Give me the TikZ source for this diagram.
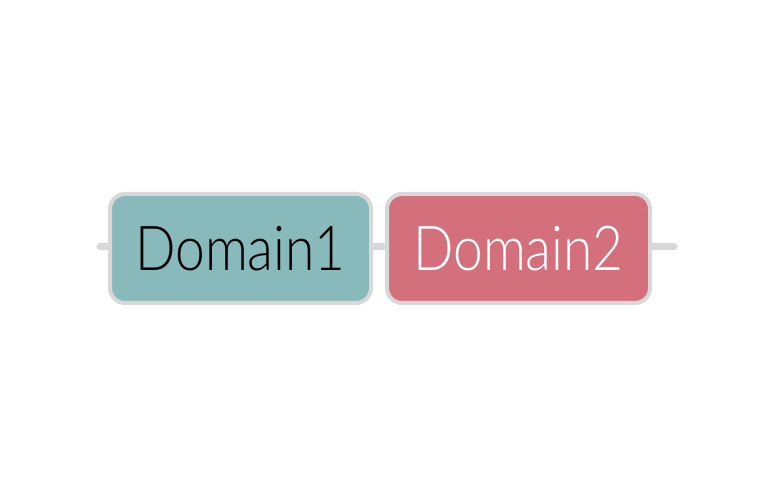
\documentclass[tikz,border=0pt]{standalone}
\usepackage{fontspec}
\setmainfont{Lato}[UprightFont=* Light]
\usetikzlibrary{backgrounds}
\definecolor{boxborder}{HTML}{D8D8D8}
\definecolor{tealfill}{HTML}{88BABC}
\definecolor{redfill}{HTML}{D3707C}
\newcommand{\dlabel}[1]{\scalebox{0.86}[1]{#1}}
\tikzset{
  domainbox/.style={draw=boxborder, line width=4pt, rounded corners=15pt,
    minimum width=261pt, minimum height=109pt, inner sep=0pt,
    font=\fontsize{62}{62}\selectfont},
  linkline/.style={draw=boxborder, line width=7pt, line cap=round}
}
\begin{document}
\begin{tikzpicture}[x=1pt,y=1pt]
\useasboundingbox (0,0) rectangle (774,503);
\node[domainbox, fill=tealfill, text=black] (d1) at (240.5,254.5) {\dlabel{Domain1}\hspace{10pt}};
\node[domainbox, fill=redfill, text=white, minimum width=263pt] (d2) at (518.5,254.5) {\dlabel{Domain2}\hspace{6pt}};
\coordinate (L) at (100,256);
\coordinate (R) at (674,256);
\begin{scope}[on background layer]
\draw[linkline] (L) -- (L -| d1.west);
\draw[linkline] (L -| d1.east) -- (L -| d2.west);
\draw[linkline] (L -| d2.east) -- (R);
\end{scope}
\end{tikzpicture}
\end{document}
